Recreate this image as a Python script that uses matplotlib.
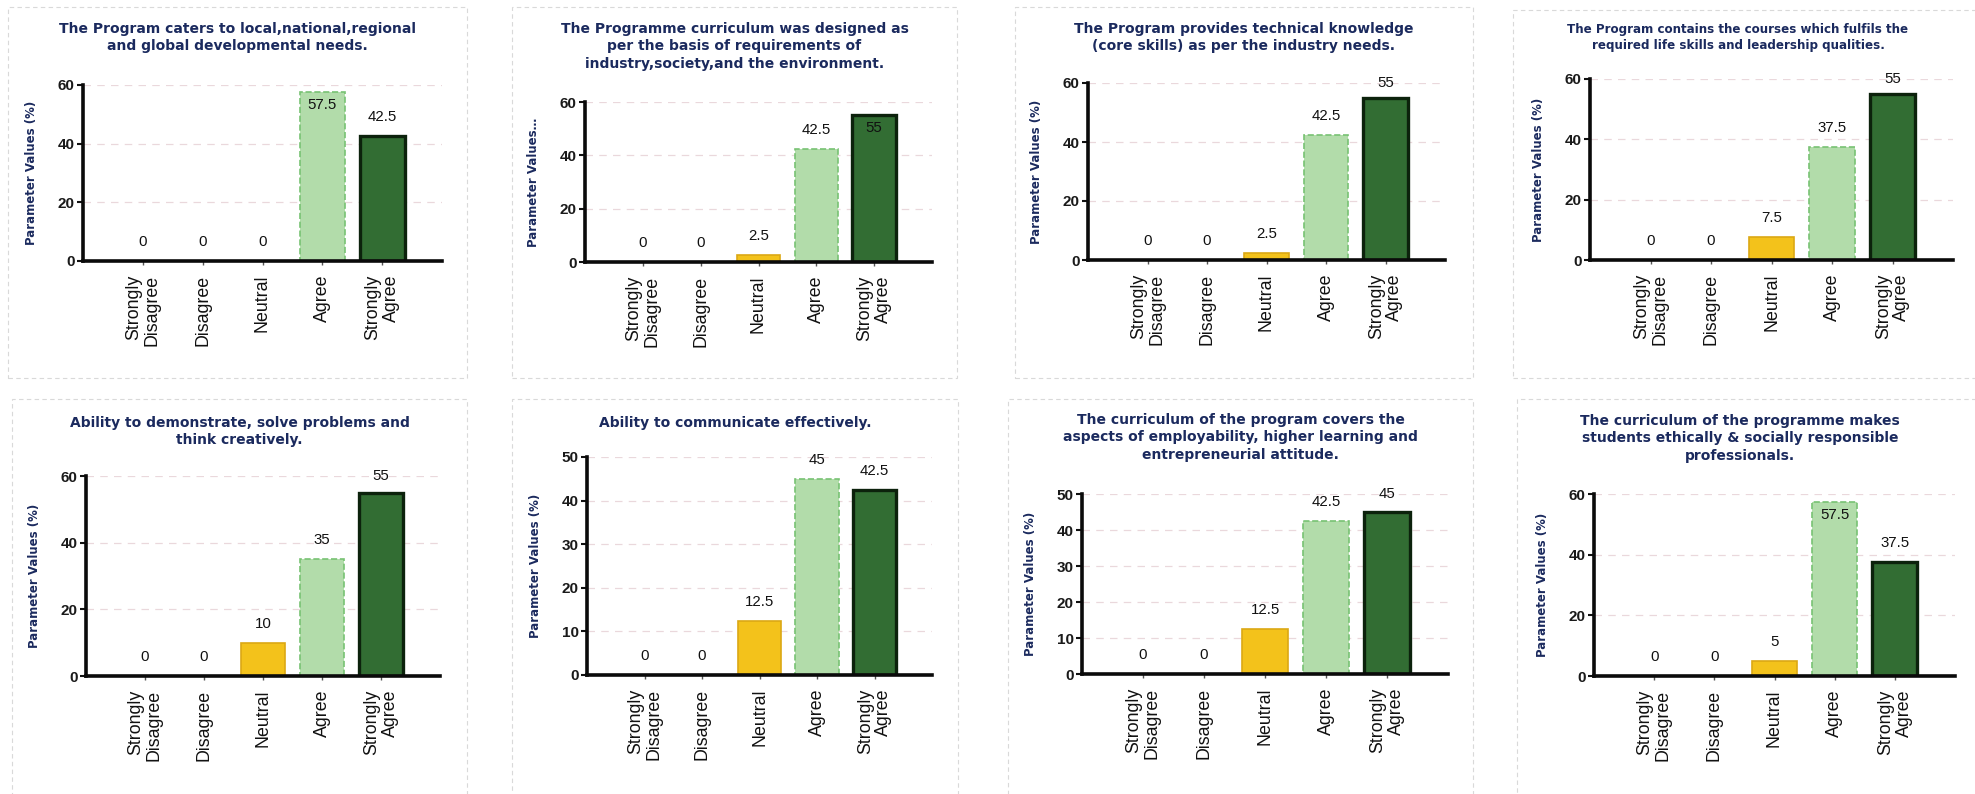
import matplotlib
matplotlib.use("Agg")
import matplotlib.pyplot as plt
from matplotlib.patches import Rectangle
import numpy as np

# ---------------- data ----------------
categories = ["Strongly\nDisagree", "Disagree", "Neutral", "Agree", "Strongly\nAgree"]

titles = [
    "The Program caters to local,national,regional\nand global developmental needs.",
    "The Programme curriculum was designed as\nper the basis of requirements of\nindustry,society,and the environment.",
    "The Program provides technical knowledge\n(core skills) as per the industry needs.",
    "The Program contains the courses which fulfils the\nrequired life skills and leadership qualities.",
    "Ability to demonstrate, solve problems and\nthink creatively.",
    "Ability to communicate effectively.",
    "The curriculum of the program covers the\naspects of employability, higher learning and\nentrepreneurial attitude.",
    "The curriculum of the programme makes\nstudents ethically & socially responsible\nprofessionals.",
]

values_q1 = [0, 0, 0, 57.5, 42.5]
values_q2 = [0, 0, 2.5, 42.5, 55]
values_q3 = [0, 0, 2.5, 42.5, 55]
values_q4 = [0, 0, 7.5, 37.5, 55]
values_q5 = [0, 0, 10, 35, 55]
values_q6 = [0, 0, 12.5, 45, 42.5]
values_q7 = [0, 0, 12.5, 42.5, 45]
values_q8 = [0, 0, 5, 57.5, 37.5]
all_values = [values_q1, values_q2, values_q3, values_q4,
              values_q5, values_q6, values_q7, values_q8]

y_max = [60, 60, 60, 60, 60, 50, 50, 60]
y_step = [20, 20, 20, 20, 20, 10, 10, 20]
y_labels = ["Parameter Values (%)", "Parameter Values\u2026", "Parameter Values (%)",
            "Parameter Values (%)", "Parameter Values (%)", "Parameter Values (%)",
            "Parameter Values (%)", "Parameter Values (%)"]

# ---------------- style / layout ----------------
W, H = 1975, 794
NAVY = "#1b2a5e"
fills = ["#d9362b", "#f08a24", "#f3c21b", "#b2dcaa", "#326d33"]
edges = ["#b02020", "#d06a10", "#dba814", "#78c273", "#0c220c"]
edge_lw = [1.0, 1.0, 1.2, 1.2, 2.4]
edge_ls = ["-", "-", "-", "--", "-"]

# axes rectangles in pixels: left, top, right, bottom
axes_px = [
    (83, 85, 442, 261),
    (585, 102, 932, 262),
    (1088, 83, 1445, 260),
    (1590, 79, 1953, 260),
    (86, 476, 440, 676),
    (587, 457, 932, 675),
    (1082, 494, 1448, 674),
    (1594, 494, 1955, 676),
]
# panel border boxes in pixels: left, top, right, bottom
boxes_px = [
    (8, 7, 467, 378),
    (512, 7, 957, 378),
    (1015, 7, 1473, 378),
    (1513, 10, 1990, 378),
    (12, 399, 467, 800),
    (512, 399, 958, 800),
    (1008, 399, 1473, 800),
    (1517, 399, 1990, 800),
]
title_top_px = [22, 22, 22, 23, 416, 416, 413, 414]
title_size = [10, 10, 10, 8.6, 10, 10, 10, 10]

fig = plt.figure(figsize=(W / 100, H / 100), dpi=100)
fig.patch.set_facecolor("white")

for k in range(8):
    l, t, r, b = axes_px[k]
    ax = fig.add_axes([l / W, 1 - b / H, (r - l) / W, (b - t) / H])
    vals = all_values[k]
    x = np.arange(len(categories))
    bars = ax.bar(x, vals, width=0.75, color=fills, edgecolor=edges, zorder=3)
    for i, br in enumerate(bars):
        br.set_linewidth(edge_lw[i])
        br.set_linestyle(edge_ls[i])

    ymax = y_max[k]
    ax.set_xlim(-1, 5)
    ax.set_ylim(0, ymax)
    ax.set_yticks(np.arange(0, ymax + 1, y_step[k]))
    ax.set_xticks(x)
    ax.set_xticklabels(categories, rotation=90, fontsize=12.8,
                       family="Liberation Sans", color="#111111",
                       ha="center", va="top", multialignment="right",
                       linespacing=1.1)
    for lab in ax.get_yticklabels():
        lab.set_fontsize(11)
        lab.set_fontweight("bold")
        lab.set_family("Liberation Sans")
        lab.set_color("#1a1a1a")

    ax.tick_params(axis="y", length=4, width=1.5, pad=2, color="#111111")
    ax.tick_params(axis="x", length=3, width=1, pad=7, color="#555555")
    for s in ("top", "right"):
        ax.spines[s].set_visible(False)
    for s in ("left", "bottom"):
        ax.spines[s].set_linewidth(2.6)
        ax.spines[s].set_color("#0a0a0a")
        ax.spines[s].set_zorder(4)
    ax.yaxis.grid(True, color="#ead8dc", linestyle=(0, (6, 5)), linewidth=0.9)
    ax.set_axisbelow(True)
    ax.set_facecolor("none")

    # y-label
    ax.set_ylabel(y_labels[k], fontsize=8.5, fontweight="bold", color=NAVY,
                  family="DejaVu Sans")
    ax.yaxis.set_label_coords(-45 / (r - l), 0.5)

    # value labels
    px_per_unit = (b - t) / ymax
    off = 19 / px_per_unit
    for i, v in enumerate(vals):
        yl = v + off
        overflow_px = (yl - ymax) * px_per_unit
        if overflow_px > 5:
            yl = v - 13 / px_per_unit
        elif yl > ymax:
            yl = ymax
        ax.text(i, yl, f"{v:g}", ha="center", va="center", fontsize=10.8,
                family="Liberation Sans", color="#111111", zorder=5,
                clip_on=False)

    # panel box
    bl, bt, br_, bb = boxes_px[k]
    fig.add_artist(Rectangle((bl / W, 1 - bb / H), (br_ - bl) / W, (bb - bt) / H,
                             transform=fig.transFigure, fill=False,
                             edgecolor="#d9d9d9", linewidth=0.8,
                             linestyle=(0, (4, 3))))
    # title, centred on the visible part of the panel
    cx = (bl + min(br_, W) - (12 if br_ > W else 0)) / 2
    fig.text(cx / W, 1 - title_top_px[k] / H, titles[k], ha="center", va="top",
             fontsize=title_size[k], fontweight="bold", color=NAVY,
             family="DejaVu Sans", linespacing=1.3)

fig.savefig("out.png", dpi=100, facecolor="white")
